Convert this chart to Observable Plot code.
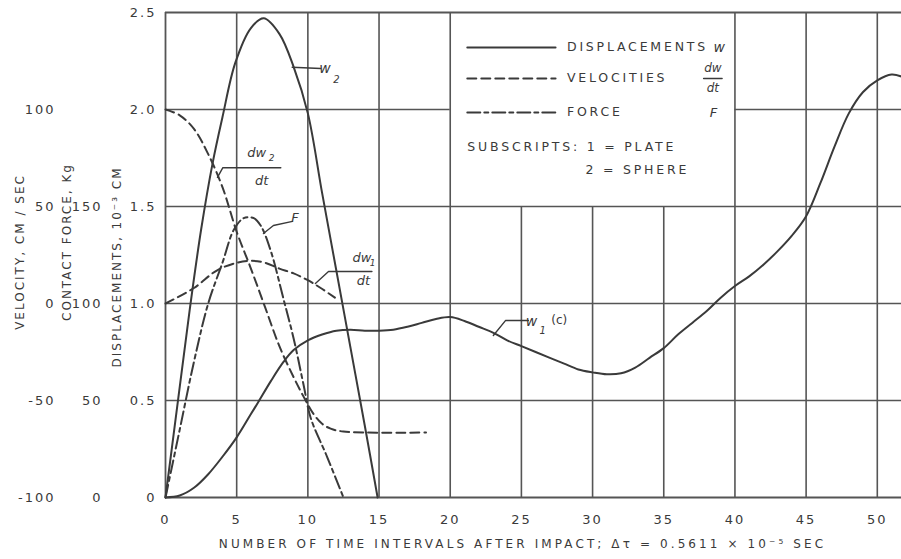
<!DOCTYPE html>
<html>
<head>
<meta charset="utf-8">
<script src="https://cdn.jsdelivr.net/npm/d3@7"></script>
<script src="https://cdn.jsdelivr.net/npm/@observablehq/plot@0.6"></script>
<style>
  body { margin: 0; background: #fff; }
  #chart svg text { font-family: "DejaVu Sans", sans-serif; }
</style>
</head>
<body>
<div id="chart"></div>
<script>
// Time axis: number of time intervals after impact (Δτ = 0.5611 × 10⁻⁵ sec)
// Displacements in 10⁻³ cm: [interval, w]
const w2Sphere = [
  [0, 0], [1, 0.57], [1.76, 1.0], [2.5, 1.38], [3.3, 1.72], [4, 1.96], [4.9, 2.24],
  [6, 2.42], [6.9, 2.47], [8, 2.39], [9, 2.22], [10, 1.98], [11, 1.57], [12, 1.17],
  [13, 0.77], [14, 0.37], [14.9, 0]
];
const w1Plate = [
  [0, 0], [1, 0.01], [2, 0.05], [3, 0.12], [4, 0.21], [5, 0.31], [6, 0.43], [6.5, 0.49],
  [7.4, 0.6], [8.3, 0.7], [9, 0.76], [10, 0.81], [11, 0.84], [12, 0.86], [13, 0.865],
  [14, 0.86], [15, 0.86], [16, 0.865], [17, 0.88], [18, 0.9], [19, 0.92], [20, 0.93],
  [21, 0.91], [22, 0.88], [23, 0.85], [24, 0.81], [25, 0.78], [26, 0.75], [27, 0.72],
  [28, 0.69], [29, 0.66], [30, 0.645], [31, 0.635], [32, 0.64], [33, 0.67], [34, 0.72],
  [35, 0.77], [36, 0.84], [37, 0.9], [38, 0.96], [39, 1.03], [40, 1.09], [41, 1.14],
  [42, 1.2], [43, 1.27], [44, 1.35], [45, 1.45], [46, 1.62], [47, 1.81], [48, 1.98],
  [49, 2.09], [50, 2.15], [51, 2.18], [51.7, 2.17]
];
// Velocities in cm/sec: [interval, dw/dt]
const dw2Sphere = [
  [0, 100], [1, 97], [2, 90], [3, 77], [4, 60], [5, 37], [6, 18], [7, -2], [8, -22],
  [9, -38], [9.7, -48], [10.4, -57], [11, -62], [11.6, -64.5], [12.5, -66], [18.3, -66.5]
];
const dw1Plate = [
  [0, 0], [2, 8], [3.6, 17], [5, 21], [6, 22], [7, 21], [8, 18], [9, 15.5], [10, 12],
  [10.9, 8], [11.9, 3]
];
// Contact force in kg: [interval, F]
const contactForce = [
  [0, 0], [1, 35], [2, 70], [3, 100], [4, 121], [4.8, 138], [5.5, 144], [6.2, 144],
  [6.7, 140], [7.4, 127], [8.3, 102], [9, 82], [9.7, 58], [10.2, 41], [11.35, 21], [12.5, 0]
];

// Axis ticks
const timeTicks = [0, 5, 10, 15, 20, 25, 30, 35, 40, 45, 50];
const dispTicks = [0, 0.5, 1.0, 1.5, 2.0, 2.5];
const velTicks = [-100, -50, 0, 50, 100];
const forceTicks = [0, 50, 100, 150];

// All three quantities share the displacement scale:
// velocity v ↦ v/100 + 1, force F ↦ F/100
const velY = v => v / 100 + 1;
const forceY = f => f / 100;

// Legend panel spans intervals 20–40 and displacements 1.5–2.5; the grid is not drawn inside it
const panel = {x1: 20, x2: 40, y1: 1.5, y2: 2.5};
const xMax = 51.7;
const gridV = timeTicks.filter(d => d > 0).map(x => ({x, y1: 0, y2: x > panel.x1 && x < panel.x2 ? panel.y1 : 2.5}));
const gridH = dispTicks.filter(d => d > 0 && d < 2.5).flatMap(y =>
  y > panel.y1 ? [{y, x1: 0, x2: panel.x1}, {y, x1: panel.x2, x2: xMax}] : [{y, x1: 0, x2: xMax}]);

// Leader lines joining curves to their labels (time, displacement units)
const leaders = [
  {id: "w2", pts: [[8.9, 2.218], [10.9, 2.211]]},
  {id: "dw2", pts: [[3.65, 1.65], [4.03, 1.70], [8.1, 1.70]]},
  {id: "F", pts: [[6.88, 1.361], [7.58, 1.402], [8.92, 1.423]]},
  {id: "dw1", pts: [[10.53, 1.103], [11.45, 1.165], [14.5, 1.165]]},
  {id: "w1", pts: [[23.03, 0.835], [23.88, 0.912], [25.49, 0.912]]},
  {id: "legend-frac", pts: [[37.8, 2.16], [39.1, 2.16]]}
];
const curveSymbols = [
  {x: 11.2, y: 2.211, t: "w", s: 14, a: "start"},
  {x: 12.0, y: 2.155, t: "2", s: 10, a: "start"},
  {x: 6.4, y: 1.775, t: "dw", s: 13, a: "middle"},
  {x: 7.45, y: 1.75, t: "2", s: 9, a: "middle"},
  {x: 6.75, y: 1.634, t: "dt", s: 13, a: "middle"},
  {x: 9.1, y: 1.443, t: "F", s: 13, a: "start"},
  {x: 13.8, y: 1.235, t: "dw", s: 13, a: "middle"},
  {x: 14.55, y: 1.208, t: "1", s: 9, a: "middle"},
  {x: 13.9, y: 1.115, t: "dt", s: 13, a: "middle"},
  {x: 25.7, y: 0.907, t: "w", s: 14, a: "start"},
  {x: 26.5, y: 0.86, t: "1", s: 10, a: "start"},
  {x: 38.9, y: 2.32, t: "w", s: 14, a: "start"},
  {x: 38.45, y: 2.215, t: "dw", s: 12, a: "middle"},
  {x: 38.45, y: 2.108, t: "dt", s: 12, a: "middle"},
  {x: 38.5, y: 1.985, t: "F", s: 13, a: "start"}
];
const plainNotes = [
  {x: 27.1, y: 0.912, t: "(c)", s: 12}
];

// Legend
const legendSolid = [[21.2, 2.32], [27.4, 2.32]];
const legendDashed = [[21.2, 2.16], [27.4, 2.16]];
const legendDashDot = [[21.2, 1.985], [27.4, 1.985]];
const legendText = [
  {x: 28.2, y: 2.32, t: "DISPLACEMENTS"},
  {x: 28.2, y: 2.16, t: "VELOCITIES"},
  {x: 28.2, y: 1.985, t: "FORCE"},
  {x: 21.2, y: 1.809, t: "SUBSCRIPTS: 1 = PLATE"},
  {x: 29.5, y: 1.686, t: "2 = SPHERE"}
];

const axisTitles = ["VELOCITY, CM / SEC", "CONTACT FORCE, Kg", "DISPLACEMENTS, 10⁻³ CM"];
const timeTitle = "NUMBER OF TIME INTERVALS AFTER IMPACT; Δτ = 0.5611 × 10⁻⁵ SEC";

const ink = "#3a3a3a";
const gridInk = "#555";

// Render transform: lets the default text renderer run, then widens its letter spacing
function spaced(px) {
  return function (index, scales, values, dimensions, context, next) {
    const g = next(index, scales, values, dimensions, context);
    if (g) g.style.letterSpacing = px;
    return g;
  };
}

const chart = Plot.plot({
  width: 901,
  height: 559,
  marginTop: 12,
  marginBottom: 62,
  marginLeft: 165,
  marginRight: 0,
  x: {domain: [0, xMax], axis: null},
  y: {domain: [0, 2.5], axis: null},
  style: {background: "#fff", color: ink, fontFamily: "DejaVu Sans"},
  marks: [
    // grid
    Plot.ruleX(gridV, {x: "x", y1: "y1", y2: "y2", stroke: gridInk, strokeWidth: 1.6}),
    Plot.ruleY(gridH, {y: "y", x1: "x1", x2: "x2", stroke: gridInk, strokeWidth: 1.6}),
    // frame
    Plot.ruleX([0], {x: d => d, stroke: gridInk, strokeWidth: 1.8}),
    Plot.ruleY([0, 2.5], {y: d => d, stroke: gridInk, strokeWidth: 1.8}),

    // curves
    Plot.line(w2Sphere, {x: d => d[0], y: d => d[1], stroke: ink, strokeWidth: 2, curve: "catmull-rom"}),
    Plot.line(w1Plate, {x: d => d[0], y: d => d[1], stroke: ink, strokeWidth: 2, curve: "catmull-rom"}),
    Plot.line(dw2Sphere, {x: d => d[0], y: d => velY(d[1]), stroke: ink, strokeWidth: 2, strokeDasharray: "9,5", curve: "catmull-rom"}),
    Plot.line(dw1Plate, {x: d => d[0], y: d => velY(d[1]), stroke: ink, strokeWidth: 2, strokeDasharray: "9,5", curve: "catmull-rom"}),
    Plot.line(contactForce, {x: d => d[0], y: d => forceY(d[1]), stroke: ink, strokeWidth: 2, strokeDasharray: "13,4,4,4", curve: "catmull-rom"}),

    // leaders and curve labels
    Plot.line(leaders.flatMap(l => l.pts.map(p => ({id: l.id, x: p[0], y: p[1]}))),
      {x: "x", y: "y", z: "id", stroke: ink, strokeWidth: 1.4}),
    Plot.text(curveSymbols, {x: "x", y: "y", text: "t", fontSize: "s", textAnchor: "a", fontStyle: "italic", fill: ink}),
    Plot.text(plainNotes, {x: "x", y: "y", text: "t", fontSize: "s", textAnchor: "start", fill: ink}),

    // legend
    Plot.line(legendSolid, {x: d => d[0], y: d => d[1], stroke: ink, strokeWidth: 2}),
    Plot.line(legendDashed, {x: d => d[0], y: d => d[1], stroke: ink, strokeWidth: 2, strokeDasharray: "9,5"}),
    Plot.line(legendDashDot, {x: d => d[0], y: d => d[1], stroke: ink, strokeWidth: 2, strokeDasharray: "13,4,4,4"}),
    Plot.text(legendText, {x: "x", y: "y", text: "t", textAnchor: "start", fontSize: 12.5, fill: ink, render: spaced("2.8px")}),

    // axes: time, displacement, contact force, velocity
    Plot.text(timeTicks, {x: d => d, frameAnchor: "bottom", dy: 26, text: d => String(d), fontSize: 13, fill: ink, render: spaced("2px")}),
    Plot.text(dispTicks, {y: d => d, frameAnchor: "left", dx: -9, textAnchor: "end", text: d => d === 0 ? "0" : d.toFixed(1), fontSize: 13, fill: ink, render: spaced("2px")}),
    Plot.text(forceTicks, {y: d => forceY(d), frameAnchor: "left", dx: -63, textAnchor: "end", text: d => String(d), fontSize: 13, fill: ink, render: spaced("2px")}),
    Plot.text(velTicks, {y: d => velY(d), frameAnchor: "left", dx: -110, textAnchor: "end", text: d => d < 0 ? "-" + Math.abs(d) : String(d), fontSize: 13, fill: ink, render: spaced("2px")}),

    Plot.text([axisTitles[0]], {frameAnchor: "left", textAnchor: "middle", rotate: -90, dx: -145, dy: -3, fontSize: 12, fill: ink, render: spaced("2px")}),
    Plot.text([axisTitles[1]], {frameAnchor: "left", textAnchor: "middle", rotate: -90, dx: -98, dy: -13, fontSize: 12, fill: ink, render: spaced("2px")}),
    Plot.text([axisTitles[2]], {frameAnchor: "left", textAnchor: "middle", rotate: -90, dx: -48, dy: 12, fontSize: 12, fill: ink, render: spaced("2px")}),
    Plot.text([timeTitle], {frameAnchor: "bottom", textAnchor: "middle", dx: -11, dy: 50, fontSize: 12, fill: ink, render: spaced("3.1px")})
  ]
});

document.getElementById("chart").appendChild(chart);
</script>
</body>
</html>
